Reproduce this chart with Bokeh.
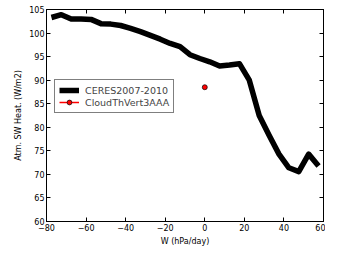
from bokeh.plotting import figure
from bokeh.models import LinearAxis, Range1d, Legend, LegendItem, FixedTicker
from bokeh.embed import file_html
from bokeh.resources import INLINE

# Data
w_bins = [-77.5, -72.5, -67.5, -62.5, -57.5, -52.5, -47.5, -42.5, -37.5, -32.5,
          -27.5, -22.5, -17.5, -12.5, -7.5, -2.5, 2.5, 7.5, 12.5, 17.5,
          22.5, 27.5, 32.5, 37.5, 42.5, 47.5, 52.5, 57.5]
ceres = [103.3, 103.9, 103.0, 103.0, 102.9, 102.0, 101.9, 101.6, 101.0, 100.3,
         99.5, 98.7, 97.8, 97.1, 95.4, 94.6, 93.9, 93.0, 93.2, 93.5,
         90.0, 82.5, 78.3, 74.3, 71.4, 70.6, 74.3, 71.8]
model_w = [0.0]
model_heat = [88.5]
x_ticks = [-80, -60, -40, -20, 0, 20, 40, 60]
y_ticks = [60, 65, 70, 75, 80, 85, 90, 95, 100, 105]

FONT = "DejaVu Sans"

p = figure(width=325, height=248, output_backend="svg", toolbar_location=None,
           x_range=Range1d(-80, 60), y_range=Range1d(60, 105),
           min_border_left=46, min_border_right=2, min_border_top=9, min_border_bottom=4)
p.grid.visible = False
p.outline_line_color = "black"
p.background_fill_color = "white"

r1 = p.line(w_bins, ceres, line_color="black", line_width=5.5, line_join="round")
r2 = p.line(model_w, model_heat, line_color="red", line_width=1.5)
r3 = p.scatter(model_w, model_heat, size=5, fill_color="red", line_color="black", line_width=0.7)

for ax in [p.xaxis[0], p.yaxis[0]]:
    ax.major_tick_in = 4
    ax.major_tick_out = 0
    ax.minor_tick_line_color = None
    ax.axis_line_color = "black"
    ax.major_label_text_font = FONT
    ax.major_label_text_font_size = "8px"
    ax.major_label_text_color = "black"
    ax.axis_label_text_font = FONT
    ax.axis_label_text_font_size = "8px"
    ax.axis_label_text_font_style = "normal"
    ax.axis_label_text_color = "black"
    ax.major_label_standoff = 2
    ax.axis_label_standoff = 3

p.xaxis[0].ticker = FixedTicker(ticks=x_ticks)
p.yaxis[0].ticker = FixedTicker(ticks=y_ticks)
p.xaxis[0].axis_label = "W (hPa/day)"
p.yaxis[0].axis_label = "Atm. SW Heat. (W/m2)"
p.xaxis[0].major_label_overrides = {t: str(t).replace("-", "\u2212") for t in x_ticks}

top = LinearAxis(ticker=FixedTicker(ticks=x_ticks), major_tick_in=4, major_tick_out=0,
                 minor_tick_line_color=None, major_label_text_color=None,
                 major_label_standoff=0, axis_line_color="black")
right = LinearAxis(ticker=FixedTicker(ticks=y_ticks), major_tick_in=4, major_tick_out=0,
                   minor_tick_line_color=None, major_label_text_color=None,
                   major_label_standoff=0, axis_line_color="black")
p.add_layout(top, "above")
p.add_layout(right, "right")

legend = Legend(items=[LegendItem(label="CERES2007-2010", renderers=[r1]),
                       LegendItem(label="CloudThVert3AAA", renderers=[r2, r3])],
                location=(8, 108))
legend.label_text_font = FONT
legend.label_text_font_size = "9.5px"
legend.border_line_color = "black"
legend.border_line_width = 1
legend.background_fill_alpha = 1
legend.padding = 4
legend.spacing = 0
legend.margin = 0
legend.glyph_width = 20
legend.glyph_height = 12
legend.label_height = 12
legend.label_standoff = 6
p.add_layout(legend)

open("out.html", "w").write(file_html(p, INLINE))
